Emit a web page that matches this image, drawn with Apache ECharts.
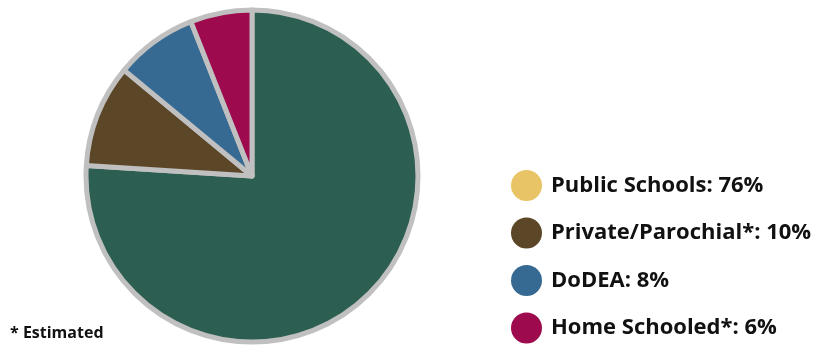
<!DOCTYPE html>
<html><head><meta charset="utf-8">
<script src="https://cdn.jsdelivr.net/npm/echarts@6/dist/echarts.min.js"></script>
<style>html,body{margin:0;padding:0;background:#fff}#c{width:824px;height:346px}</style>
</head><body><div id="c"></div>
<script>
const categories = ['Public Schools', 'Private/Parochial*', 'DoDEA', 'Home Schooled*'];
const values = [76, 10, 8, 6];
const sliceColors = ['#2d5e52', '#5c4628', '#366a92', '#9e0a4e'];
const legendColors = ['#e8c466', '#5c4628', '#366a92', '#9e0a4e'];
const footnote = '* Estimated';

const chart = echarts.init(document.getElementById('c'));
chart.setOption({
  animation: false,
  legend: {
    orient: 'vertical',
    left: 511,
    top: 170,
    height: 176,
    padding: 0,
    icon: 'circle',
    itemWidth: 31,
    itemHeight: 31,
    itemGap: 16.5,
    selectedMode: false,
    data: categories.map((c, i) => ({ name: c, itemStyle: { color: legendColors[i], borderWidth: 0 } })),
    formatter: name => name + ': ' + values[categories.indexOf(name)] + '%',
    textStyle: { fontFamily: 'Open Sans', fontWeight: 'bold', fontSize: 22, color: '#111', padding: [0, 0, 0, 4] }
  },
  graphic: [{
    type: 'text', left: 10, top: 325,
    style: { text: footnote, font: 'bold 16px "Open Sans"', fill: '#111' }
  }],
  series: [{
    type: 'pie',
    center: [252, 176],
    radius: [0, 166],
    startAngle: 90,
    clockwise: true,
    label: { show: false },
    labelLine: { show: false },
    emphasis: { disabled: true },
    itemStyle: { borderColor: '#c0c0c0', borderWidth: 5 },
    data: categories.map((c, i) => ({ name: c, value: values[i], itemStyle: { color: sliceColors[i] } }))
  }]
});
</script></body></html>
